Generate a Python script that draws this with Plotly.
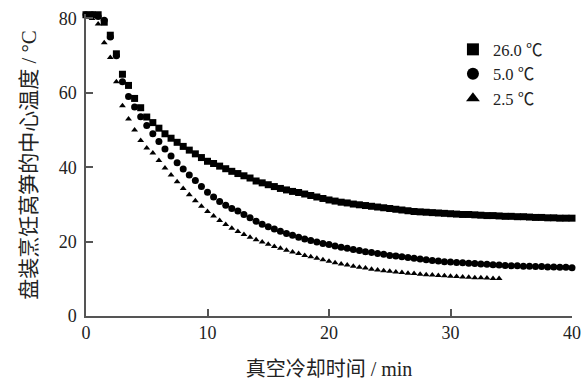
import plotly.graph_objects as go

# Sampling times (min)
time_min = [0, 0.5, 1, 1.5, 2, 2.5, 3, 3.5, 4, 4.5, 5, 5.5, 6, 6.5, 7, 7.5, 8, 8.5, 9, 9.5,
            10, 10.5, 11, 11.5, 12, 12.5, 13, 13.5, 14, 14.5, 15, 15.5, 16, 16.5, 17, 17.5, 18, 18.5, 19, 19.5,
            20, 20.5, 21, 21.5, 22, 22.5, 23, 23.5, 24, 24.5, 25, 25.5, 26, 26.5, 27, 27.5, 28, 28.5, 29, 29.5,
            30, 30.5, 31, 31.5, 32, 32.5, 33, 33.5, 34, 34.5, 35, 35.5, 36, 36.5, 37, 37.5, 38, 38.5, 39, 39.5, 40]

# 26.0 °C series
temp_260 = [81, 81, 81, 79, 75.5, 70.5, 65, 62, 58.5, 56, 53.5, 52, 50.5, 49, 47.8, 46.7, 45.6, 44.6, 43.6, 42.6,
            41.6, 41, 40.3, 39.6, 38.9, 38.3, 37.7, 37.1, 36.3, 35.8, 35.3, 34.8, 34.3, 33.9, 33.5, 33.2, 32.8, 32.4, 32.0, 31.6,
            31.2, 30.9, 30.6, 30.4, 30.1, 29.9, 29.7, 29.5, 29.3, 29.1, 28.9, 28.7, 28.5, 28.3, 28.1, 28.0, 27.9, 27.8, 27.7, 27.6,
            27.5, 27.4, 27.3, 27.3, 27.2, 27.1, 27.0, 27.0, 26.9, 26.8, 26.8, 26.7, 26.7, 26.6, 26.5, 26.5, 26.4, 26.4, 26.3, 26.3, 26.3]

# 5.0 °C series
temp_50 = [81, 81, 80.5, 79.5, 75, 70, 63, 59, 56.2, 53.6, 51.2, 49.0, 46.9, 44.9, 43.0, 41.2, 39.5, 37.9, 36.4, 34.8,
           33.3, 32.0, 30.8, 29.8, 28.9, 28.2, 27.3, 26.4, 25.5, 24.7, 24.0, 23.4, 22.8, 22.2, 21.7, 21.2, 20.7, 20.3, 19.9, 19.5,
           19.2, 18.8, 18.5, 18.2, 17.9, 17.6, 17.3, 17.1, 16.8, 16.6, 16.3, 16.1, 15.9, 15.7, 15.5, 15.3, 15.1, 14.9, 14.8, 14.6,
           14.5, 14.4, 14.3, 14.2, 14.1, 14.0, 13.9, 13.8, 13.7, 13.6, 13.5, 13.5, 13.4, 13.4, 13.3, 13.3, 13.2, 13.2, 13.1, 13.1, 13.0]

# 2.5 °C series (ends at 34 min)
time_25 = time_min[:69]
temp_25 = [80.5, 80, 78.5, 73.5, 69.5, 63, 56.5, 53, 50, 47.2, 45.2, 43.8, 41.8, 39.8, 37.9, 36.1, 34.3, 32.6, 31.0, 29.5,
           28.1, 26.9, 25.7, 24.6, 23.6, 22.7, 21.9, 21.2, 20.5, 19.9, 19.3, 18.7, 18.2, 17.7, 17.2, 16.8, 16.3, 15.9, 15.5, 15.1,
           14.7, 14.3, 14.0, 13.7, 13.4, 13.1, 12.9, 12.6, 12.4, 12.2, 12.0, 11.8, 11.7, 11.5, 11.4, 11.2, 11.1, 11.0, 10.9, 10.8,
           10.7, 10.6, 10.5, 10.4, 10.3, 10.3, 10.2, 10.1, 10.1]

series_names = ["26.0 ℃", "5.0 ℃", "2.5 ℃"]
x_ticks = [0, 10, 20, 30, 40]
y_ticks = [0, 20, 40, 60, 80]

FONT = "'Liberation Serif', 'Noto Sans CJK SC', serif"
AX = "#555555"

fig = go.Figure()
fig.add_trace(go.Scatter(x=time_min, y=temp_260, mode="markers", name=series_names[0],
                         marker=dict(symbol="square", size=7, color="black"), cliponaxis=False))
fig.add_trace(go.Scatter(x=time_min, y=temp_50, mode="markers", name=series_names[1],
                         marker=dict(symbol="circle", size=7, color="black"), cliponaxis=False))
fig.add_trace(go.Scatter(x=time_25, y=temp_25, mode="markers", name=series_names[2],
                         marker=dict(symbol="triangle-up", size=6, color="black"), cliponaxis=False))

fig.update_layout(
    width=585, height=380,
    margin=dict(l=86, r=13, t=14, b=64),
    paper_bgcolor="white", plot_bgcolor="white",
    font=dict(family=FONT, size=18, color="#222222"),
    showlegend=True,
    legend=dict(x=0.755, y=0.94, xanchor="left", yanchor="top",
                bgcolor="rgba(0,0,0,0)", font=dict(size=16.5), tracegroupgap=0,
                itemsizing="constant"),
    xaxis=dict(range=[0, 40], tickvals=x_ticks, ticks="inside", ticklen=7, tickwidth=1.5,
               tickcolor=AX, showline=True, linecolor=AX, linewidth=1.5, showgrid=False,
               zeroline=False, mirror=False, automargin=False,
               title=dict(text="真空冷却时间 / min", font=dict(size=20), standoff=20)),
    yaxis=dict(range=[0, 81.2], tickvals=y_ticks, ticks="inside", ticklen=7, tickwidth=1.5,
               tickcolor=AX, showline=True, linecolor=AX, linewidth=1.5, showgrid=False,
               zeroline=False, mirror=False, ticklabelstandoff=4, automargin=False,
               title=dict(text="盘装烹饪莴笋的中心温度 / °C", font=dict(size=21), standoff=16)),
)

fig.write_html("out.html")
